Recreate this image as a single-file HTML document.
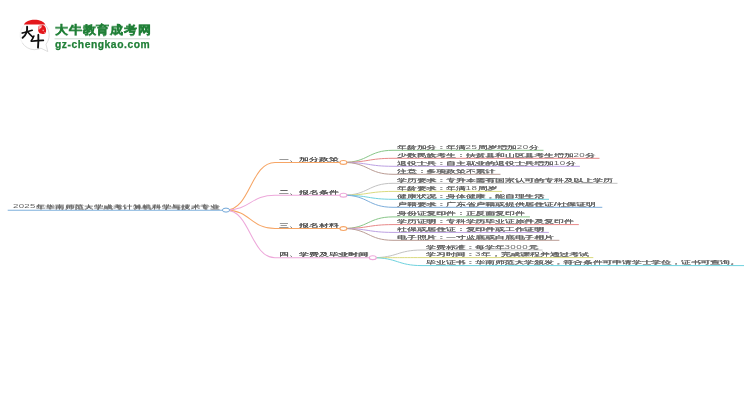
<!DOCTYPE html>
<html><head><meta charset="utf-8">
<style>
html,body{margin:0;padding:0;background:#fff;}
body{width:750px;height:410px;overflow:hidden;position:relative;font-family:"Liberation Sans",sans-serif;}
.t{position:absolute;white-space:nowrap;font-size:97px;line-height:100px;color:#666;text-shadow:0 4px 0 #666,4px 2px 0 #666;transform-origin:0 0;transform:scale(0.1,0.053);}
.wrap{position:absolute;left:0;top:0;width:750px;height:410px;will-change:transform;}
.t1{font-size:99px;transform:scale(0.1,0.05);color:#555;text-shadow:0 4px 0 #555,4px 2px 0 #555;}
.t2{font-size:98.3px;transform:scale(0.1,0.05);}
.n{letter-spacing:5px;text-shadow:none;color:#666;}
.logo1{position:absolute;left:55px;top:22.5px;font-size:13.2px;line-height:16px;font-weight:bold;color:#1f7f36;-webkit-text-stroke:0.45px #1f7f36;white-space:nowrap;letter-spacing:0.8px;transform-origin:0 0;transform:scale(1,0.9);will-change:transform;}
.logo2{position:absolute;left:55px;top:39.3px;font-size:10.3px;line-height:12px;font-weight:bold;color:#1f7f36;-webkit-text-stroke:0.25px #1f7f36;white-space:nowrap;letter-spacing:0.55px;will-change:transform;}
svg{position:absolute;left:0;top:0;}
</style></head><body>
<svg width="750" height="410" viewBox="0 0 750 410">
  <!-- logo -->
  <path d="M41,48.2 A14.6,14.6 0 1 1 46,44.2 L47.8,51.6 Z" fill="#fff" stroke="#dadada" stroke-width="0.9" stroke-linejoin="round"/>
  <path d="M22,43 A14.6,14.6 0 0 1 34,20.2" fill="none" stroke="#fff" stroke-width="2.2" opacity="0.7"/>
  <path d="M23.9,24.6 C26.5,18.2 42.7,18.2 45.3,24.6 Z" fill="#e4171b"/>
  <path d="M38.2,27 C38.5,24.8 41.5,24.6 43.5,25.3 C46.2,26.5 46.6,31 45.6,33 C44.2,34.5 40.6,34.4 39,32.6 C38,31.2 38,29 38.2,27 Z" fill="#e4171b"/>
  <path d="M38.6,25.4 C40,24.8 41.6,25 42.4,25.6 C41.5,27.5 40.5,29 38.5,30 C38.2,28.5 38.2,26.8 38.6,25.4 Z" fill="#fff" opacity="0.6"/>
  <path d="M42.8,29.6 l1,0.3 l-0.2,1.4 l-1,-0.2 Z M44.6,32 l0.8,0.2 l-0.2,0.9 l-0.8,-0.2 Z M40.4,27 l1,0.2 l-0.3,1 l-0.9,-0.2 Z" fill="#fff" opacity="0.75"/>
  <g stroke="#111" fill="none" stroke-linecap="round">
  <path d="M22.2,33.1 C25.5,32.2 29,31.1 32.2,30.2" stroke-width="1.6"/>
  <path d="M27.1,26.8 C27.5,31 25.8,35.2 22.6,37.8" stroke-width="1.9"/>
  <path d="M28,32.2 C29.5,34 31.1,35.6 32.8,37.1" stroke-width="1.6"/>
  <path d="M33.9,36.1 C33.3,37.8 32.4,39.3 31.3,40.7" stroke-width="1.6"/>
  <path d="M31.3,41.2 C35,40.8 39.5,40.3 43.4,40.4" stroke-width="1.6"/>
  <path d="M38.3,34.8 C38.5,39 38.4,43.5 38,47.6" stroke-width="1.85"/>
  </g>
  <line x1="54.5" y1="38.8" x2="150" y2="38.8" stroke="#cddbd0" stroke-width="1"/>

  <!-- root -->
  <g fill="none">
  <line x1="7.7" y1="210.2" x2="226" y2="210.2" stroke="#7fb0dc" stroke-width="1.1"/>
  <path d="M226,210.1 C250.50,210.1 250.50,162.4 275,162.4 L343.4,162.4" stroke="#f6a565" stroke-width="1.05"/>
  <path d="M226,210.1 C250.50,210.1 250.50,195.2 275,195.2 L343.4,195.2" stroke="#eda8da" stroke-width="1.05"/>
  <path d="M226,210.1 C250.50,210.1 250.50,228.5 275,228.5 L343.4,228.5" stroke="#f6a565" stroke-width="1.05"/>
  <path d="M226,210.1 C250.50,210.1 250.50,257.7 275,257.7 L372.8,257.7" stroke="#eda8da" stroke-width="1.05"/>
  <path d="M343.4,162.4 C368.20,162.4 368.20,150.3 393,150.3 L543.5,150.3" stroke="#88c688" stroke-width="1"/>
  <path d="M343.4,162.4 C368.20,162.4 368.20,158.3 393,158.3 L599.5,158.3" stroke="#e88888" stroke-width="1"/>
  <path d="M343.4,162.4 C368.20,162.4 368.20,166.3 393,166.3 L579.9,166.3" stroke="#bca0e2" stroke-width="1"/>
  <path d="M343.4,162.4 C368.20,162.4 368.20,174.3 393,174.3 L500.5,174.3" stroke="#ba9c94" stroke-width="1"/>
  <path d="M343.4,195.2 C368.20,195.2 368.20,183.3 393,183.3 L617.5,183.3" stroke="#c2c2c2" stroke-width="1"/>
  <path d="M343.4,195.2 C368.20,195.2 368.20,191.4 393,191.4 L502,191.4" stroke="#dada7e" stroke-width="1"/>
  <path d="M343.4,195.2 C368.20,195.2 368.20,199.3 393,199.3 L549,199.3" stroke="#6ed2de" stroke-width="1"/>
  <path d="M343.4,195.2 C368.20,195.2 368.20,207.3 393,207.3 L602.3,207.3" stroke="#7caddb" stroke-width="1"/>
  <path d="M343.4,228.5 C368.20,228.5 368.20,216.9 393,216.9 L529.9,216.9" stroke="#88c688" stroke-width="1"/>
  <path d="M343.4,228.5 C368.20,228.5 368.20,224.6 393,224.6 L578.8,224.6" stroke="#e88888" stroke-width="1"/>
  <path d="M343.4,228.5 C368.20,228.5 368.20,232.4 393,232.4 L548.9,232.4" stroke="#bca0e2" stroke-width="1"/>
  <path d="M343.4,228.5 C368.20,228.5 368.20,240.3 393,240.3 L559.4,240.3" stroke="#ba9c94" stroke-width="1"/>
  <path d="M372.8,257.7 C397.40,257.7 397.40,250.0 422,250.0 L542.5,250.0" stroke="#c2c2c2" stroke-width="1"/>
  <path d="M372.8,257.7 C397.40,257.7 397.40,257.6 422,257.6 L593.3,257.6" stroke="#dada7e" stroke-width="1"/>
  <path d="M372.8,257.7 C397.40,257.7 397.40,265.6 422,265.6 L744,265.6" stroke="#6ed2de" stroke-width="1"/>
  </g>
  <ellipse cx="226" cy="210.1" rx="3.6" ry="2" fill="#fff" stroke="#6fa6d8" stroke-width="1"/>
  <ellipse cx="343.4" cy="162.4" rx="3.5" ry="1.95" fill="#fff" stroke="#f6a565" stroke-width="1.15"/>
  <ellipse cx="343.4" cy="195.2" rx="3.5" ry="1.95" fill="#fff" stroke="#eda8da" stroke-width="1.15"/>
  <ellipse cx="343.4" cy="228.5" rx="3.5" ry="1.95" fill="#fff" stroke="#f6a565" stroke-width="1.15"/>
  <ellipse cx="372.8" cy="257.7" rx="3.5" ry="1.95" fill="#fff" stroke="#eda8da" stroke-width="1.15"/>
</svg>

<div class="logo1">大牛教育成考网</div>
<div class="logo2">gz-chengkao.com</div>

<div class="wrap">
<div class="t" style="left:12.7px;top:203.5px"><span style="text-shadow:none;color:#666;letter-spacing:2.5px">2025</span>年华南师范大学成考计算机科学与技术专业</div>

<div class="t t1" style="left:278.5px;top:157.3px">一、加分政策</div>
<div class="t t1" style="left:278.5px;top:190.3px">二、报名条件</div>
<div class="t t1" style="left:278.5px;top:223.3px">三、报名材料</div>
<div class="t t1" style="left:278.5px;top:252px">四、学费及毕业时间</div>

<div class="t t2" style="left:397.3px;top:144.85px">年龄加分：年满<span class="n">25</span>周岁增加<span class="n">20</span>分</div>
<div class="t t2" style="left:397.3px;top:153.00px">少数民族考生：扶贫县和山区县考生增加<span class="n">20</span>分</div>
<div class="t t2" style="left:397.3px;top:160.73px">退役士兵：自主就业的退役士兵增加<span class="n">10</span>分</div>
<div class="t t2" style="left:397.3px;top:168.68px">注意：多项政策不累计</div>

<div class="t t2" style="left:397.3px;top:177.78px">学历要求：专升本需有国家认可的专科及以上学历</div>
<div class="t t2" style="left:397.3px;top:186.09px">年龄要求：年满<span class="n">18</span>周岁</div>
<div class="t t2" style="left:397.3px;top:194.06px">健康状况：身体健康，能自理生活</div>
<div class="t t2" style="left:397.3px;top:201.93px">户籍要求：广东省户籍或提供居住证/社保证明</div>

<div class="t t2" style="left:397.3px;top:210.93px">身份证复印件：正反面复印件</div>
<div class="t t2" style="left:397.3px;top:218.82px">学历证明：专科学历毕业证原件及复印件</div>
<div class="t t2" style="left:397.3px;top:227.10px">社保或居住证：复印件或工作证明</div>
<div class="t t2" style="left:397.3px;top:235.25px">电子照片：一寸蓝底或白底电子相片</div>

<div class="t t2" style="left:426px;top:244.60px">学费标准：每学年<span class="n">3000</span>元</div>
<div class="t t2" style="left:426px;top:251.81px">学习时间：<span class="n">3</span>年，完成课程并通过考试</div>
<div class="t t2" style="left:426px;top:259.82px">毕业证书：华南师范大学颁发，符合条件可申请学士学位，证书可查询。</div>
</div>
</body></html>
